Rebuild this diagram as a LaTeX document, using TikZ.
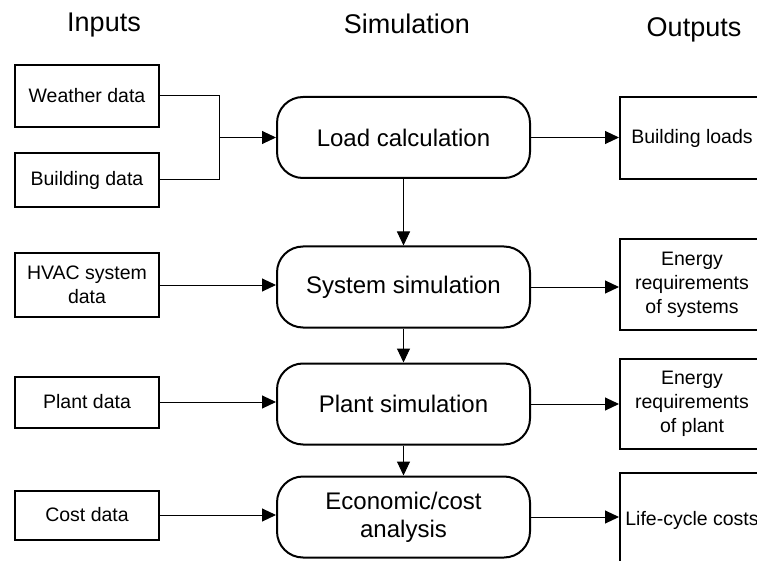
\documentclass[tikz,border=0pt]{standalone}
\usepackage{fontspec}
\setmainfont{Liberation Sans}
\usetikzlibrary{arrows.meta}

\begin{document}
\begin{tikzpicture}[
        x=1pt, y=-1pt,
        head/.style={font=\fontsize{27}{30}\selectfont},
        inbox/.style={draw, line width=2pt, minimum width=144pt, inner sep=0pt,
                align=center, font=\fontsize{19.5}{24}\selectfont},
        simbox/.style={draw, rounded corners=26pt, line width=2pt, minimum width=253pt,
                minimum height=81pt, inner sep=0pt, align=center,
                font=\fontsize{24}{28}\selectfont},
        outbox/.style={draw, line width=2pt, minimum width=144pt, inner sep=0pt,
                align=center, font=\fontsize{19.5}{24}\selectfont},
        line/.style={line width=1pt},
        arrow/.style={line width=1pt, -{Triangle[length=14pt,width=13pt]}}
    ]
    \useasboundingbox (0,0) rectangle (757,561);

    % column titles
    \node[head] (inputs) at (104,25) {Inputs};
    \node[head] (simulation) at (407,24) {Simulation};
    \node[head] (outputs) at (694,30) {Outputs};

    % inputs
    \node[inbox, minimum height=62pt] (weather) at (87,96) {Weather data};
    \node[inbox, minimum height=54pt] (building) at (87,180) {Building data};
    \node[inbox, minimum height=64pt] (hvac) at (87,285) {HVAC system\\data};
    \node[inbox, minimum height=51pt] (plantdata) at (87,402) {Plant data};
    \node[inbox, minimum height=49pt] (costdata) at (87,515) {Cost data};

    % simulation steps
    \node[simbox] (load) at (403.5,137.5) {Load calculation};
    \node[simbox] (system) at (403.5,287) {System simulation};
    \node[simbox] (plant) at (403.5,404) {Plant simulation};
    \node[simbox] (econ) at (403.5,517) {Economic/cost\\analysis};

    % outputs
    \node[outbox, minimum height=82pt] (loads) at (692,138) {Building loads};
    \node[outbox, minimum height=91pt] (syseng) at (692,284.5) {Energy\\requirements\\of systems};
    \node[outbox, minimum height=90pt] (planteng) at (692,404) {Energy\\requirements\\of plant};
    \node[outbox, anchor=north, text height=52pt, text depth=50pt] (lcc) at (692,472) {Life-cycle costs};

    \coordinate (junc) at (219,137.5);

    \draw[line] (weather.east) -| (junc);
    \draw[line] (building.east) -| (junc);
    \draw[arrow] (junc) -- (load.west);
    \draw[arrow] (hvac.east) -- (hvac.east -| system.west);
    \draw[arrow] (plantdata.east) -- (plantdata.east -| plant.west);
    \draw[arrow] (costdata.east) -- (costdata.east -| econ.west);

    \draw[arrow] (load.south) -- (system.north);
    \draw[arrow] (system.south) -- (plant.north);
    \draw[arrow] (plant.south) -- (econ.north);

    \draw[arrow] (load.east) -- (load.east -| loads.west);
    \draw[arrow] (system.east) -- (system.east -| syseng.west);
    \draw[arrow] (plant.east) -- (plant.east -| planteng.west);
    \draw[arrow] (econ.east) -- (econ.east -| lcc.west);
\end{tikzpicture}
\end{document}
